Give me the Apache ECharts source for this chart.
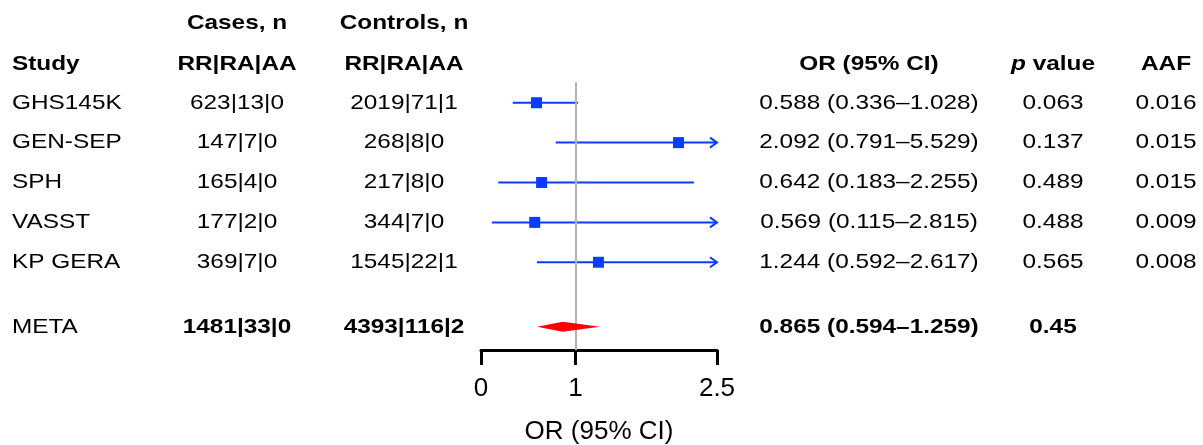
<!DOCTYPE html>
<html>
<head>
<meta charset="utf-8">
<title>Forest plot</title>
<script src="https://cdn.jsdelivr.net/npm/echarts@6/dist/echarts.min.js"></script>
<style>
  html, body { margin: 0; padding: 0; background: #fff; }
  #chart { width: 1203px; height: 445px; }
</style>
</head>
<body>
<div id="chart"></div>
<script>
  // study rows
  var studies = ['GHS145K', 'GEN-SEP', 'SPH', 'VASST', 'KP GERA'];
  var casesN = ['623|13|0', '147|7|0', '165|4|0', '177|2|0', '369|7|0'];
  var controlsN = ['2019|71|1', '268|8|0', '217|8|0', '344|7|0', '1545|22|1'];
  var orValues = [0.588, 2.092, 0.642, 0.569, 1.244];
  var ciLow = [0.336, 0.791, 0.183, 0.115, 0.592];
  var ciHigh = [1.028, 5.529, 2.255, 2.815, 2.617];
  var pValues = ['0.063', '0.137', '0.489', '0.488', '0.565'];
  var aafValues = ['0.016', '0.015', '0.015', '0.009', '0.008'];

  // pooled row
  var metaLabel = 'META';
  var metaCases = '1481|33|0';
  var metaControls = '4393|116|2';
  var metaOr = 0.865;
  var metaLow = 0.594;
  var metaHigh = 1.259;
  var metaP = '0.45';

  var axisTicks = [0, 1, 2.5];

  // layout
  var rows = [0, 1, 2, 3, 4];
  var metaRow = 5.62;
  var FONT = 'Liberation Sans, Arial, sans-serif';
  var STRETCH = 1.16;
  var BLUE = '#0a3cff';
  var col = { study: 12, cases: 237, controls: 404, or: 869, p: 1053, aaf: 1166 };
  var xMax = 2.5;

  function fmtCi(or, lo, hi) {
    return or.toFixed(3) + ' (' + lo.toFixed(3) + '\u2013' + hi.toFixed(3) + ')';
  }

  var tableRows = rows.concat([metaRow]);
  var tStudy = studies.concat([metaLabel]);
  var tCases = casesN.concat([metaCases]);
  var tControls = controlsN.concat([metaControls]);
  var tOr = orValues.map(function (v, i) { return fmtCi(v, ciLow[i], ciHigh[i]); })
    .concat([fmtCi(metaOr, metaLow, metaHigh)]);
  var tP = pValues.concat([metaP]);
  var tAaf = aafValues.concat(['']);

  function cell(x, y, text, bold, align) {
    return {
      type: 'text',
      x: x,
      y: y,
      scaleX: STRETCH,
      style: {
        text: text,
        fill: '#000',
        fontSize: 21,
        fontFamily: FONT,
        fontWeight: bold ? 'bold' : 'normal',
        align: align || 'center',
        verticalAlign: 'middle'
      }
    };
  }

  function header(x, y, text, align) {
    return {
      type: 'text',
      x: x,
      y: y,
      scaleX: STRETCH,
      style: {
        text: text,
        fill: '#000',
        fontSize: 21,
        fontFamily: FONT,
        fontWeight: 'bold',
        align: align || 'center',
        verticalAlign: 'middle',
        rich: {
          i: { fontStyle: 'italic', fontWeight: 'bold', fontSize: 21, fontFamily: FONT }
        }
      }
    };
  }

  var chart = echarts.init(document.getElementById('chart'), null, { renderer: 'canvas' });

  chart.setOption({
    animation: false,
    backgroundColor: '#fff',
    grid: {
      left: 481,
      right: 486,
      top: 82,
      bottom: 95,
      outerBoundsMode: 'none'
    },
    xAxis: {
      type: 'value',
      position: 'bottom',
      min: 0,
      max: xMax,
      interval: 0.5,
      splitLine: { show: false },
      axisLine: { show: true, onZero: false, lineStyle: { color: '#000', width: 3 } },
      axisTick: {
        show: true,
        customValues: axisTicks,
        length: 15,
        lineStyle: { color: '#000', width: 3 }
      },
      axisLabel: {
        customValues: axisTicks,
        color: '#000',
        fontSize: 26,
        fontFamily: FONT,
        margin: 26
      },
      name: 'OR (95% CI)',
      nameLocation: 'middle',
      nameGap: 69,
      nameTextStyle: { color: '#000', fontSize: 26, fontFamily: FONT }
    },
    yAxis: {
      type: 'value',
      inverse: true,
      min: -0.52,
      max: 6.2,
      show: false
    },
    graphic: [
      header(col.cases, 23, 'Cases, n'),
      header(col.controls, 23, 'Controls, n'),
      header(col.study, 64, 'Study', 'left'),
      header(col.cases, 64, 'RR|RA|AA'),
      header(col.controls, 64, 'RR|RA|AA'),
      header(col.or, 64, 'OR (95% CI)'),
      header(col.p, 64, '{i|p} value'),
      header(col.aaf, 64, 'AAF')
    ],
    series: [
      {
        // study estimates with confidence intervals
        name: 'studies',
        type: 'custom',
        z: 2,
        encode: { x: [0, 1, 2], y: 3 },
        data: orValues.map(function (v, i) { return [v, ciLow[i], ciHigh[i], rows[i]]; }),
        renderItem: function (params, api) {
          var row = api.value(3);
          var y = api.coord([0, row])[1];
          var xOr = api.coord([api.value(0), row])[0];
          var xLo = api.coord([api.value(1), row])[0];
          var hi = api.value(2);
          var xHi = api.coord([Math.min(hi, xMax), row])[0];
          var children = [
            {
              type: 'line',
              shape: { x1: xLo, y1: y, x2: xHi, y2: y },
              style: { stroke: BLUE, lineWidth: 2 }
            },
            {
              type: 'rect',
              shape: { x: xOr - 5.5, y: y - 5.5, width: 11, height: 11 },
              style: { fill: BLUE }
            }
          ];
          if (hi > xMax) {
            children.push({
              type: 'polyline',
              shape: { points: [[xHi - 7, y - 5], [xHi, y], [xHi - 7, y + 5]] },
              style: { stroke: BLUE, lineWidth: 2, fill: null }
            });
          }
          return { type: 'group', children: children };
        },
        markLine: {
          silent: true,
          symbol: 'none',
          label: { show: false },
          lineStyle: { color: '#b4b4b4', width: 2, type: 'solid' },
          data: [{ xAxis: 1 }]
        }
      },
      {
        // pooled estimate diamond
        name: 'meta',
        type: 'custom',
        z: 6,
        encode: { x: [0, 1, 2], y: 3 },
        data: [[metaOr, metaLow, metaHigh, metaRow]],
        renderItem: function (params, api) {
          var row = api.value(3);
          var y = api.coord([0, row])[1];
          var xOr = api.coord([api.value(0), row])[0];
          var xLo = api.coord([api.value(1), row])[0];
          var xHi = api.coord([api.value(2), row])[0];
          return {
            type: 'polygon',
            shape: { points: [[xLo, y], [xOr, y - 5], [xHi, y], [xOr, y + 5]] },
            style: { fill: '#ff0000' }
          };
        }
      },
      {
        // table columns
        name: 'table',
        type: 'custom',
        z: 4,
        encode: { x: 0, y: 1 },
        data: tableRows.map(function (r) { return [0, r]; }),
        renderItem: function (params, api) {
          var i = params.dataIndex;
          var y = api.coord([0, api.value(1)])[1];
          var isMeta = i === tableRows.length - 1;
          return {
            type: 'group',
            children: [
              cell(col.study, y, tStudy[i], false, 'left'),
              cell(col.cases, y, tCases[i], isMeta),
              cell(col.controls, y, tControls[i], isMeta),
              cell(col.or, y, tOr[i], isMeta),
              cell(col.p, y, tP[i], isMeta),
              cell(col.aaf, y, tAaf[i], isMeta)
            ]
          };
        }
      }
    ]
  });
</script>
</body>
</html>
